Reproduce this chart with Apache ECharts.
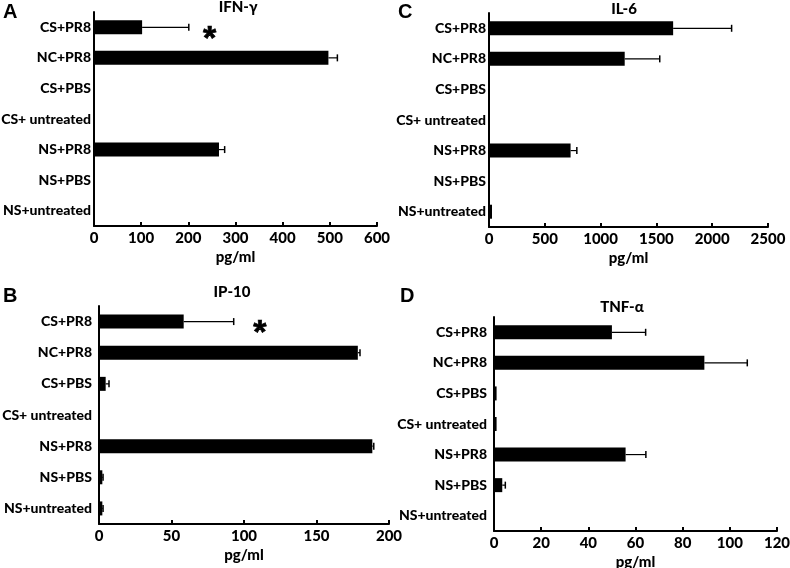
<!DOCTYPE html>
<html><head><meta charset="utf-8">
<script src="https://cdn.jsdelivr.net/npm/echarts@6/dist/echarts.min.js"></script>
<style>html,body{margin:0;padding:0;background:#fff}#c{width:790px;height:568px}</style>
</head><body><div id="c"></div>
<script>
const categories = ['CS+PR8','NC+PR8','CS+PBS','CS+ untreated','NS+PR8','NS+PBS','NS+untreated'];
const ifnValues = [102, 497, 0, 0, 265, 0, 0];
const ifnErr    = [99, 19, 0, 0, 12, 0, 0];
const il6Values = [1650, 1216, 0, 0, 731, 0, 27];
const il6Err    = [524, 314, 0, 0, 56, 0, 0];
const ip10Values = [58.4, 178.5, 4.6, 0, 188.5, 2.3, 2.3];
const ip10Err    = [34.5, 1.5, 2.3, 0, 1, 0.5, 0.5];
const tnfValues = [50.0, 89.2, 1.1, 1.1, 55.8, 3.5, 0.3];
const tnfErr    = [14.3, 18.2, 0, 0, 8.6, 1.3, 0];
const panelTitles = ['IFN-γ', 'IL-6', 'IP-10', 'TNF-α'];
const panelLetters = ['A', 'C', 'B', 'D'];
const axisMax = [600, 2500, 200, 120];
const axisInterval = [100, 500, 50, 20];
const starA = [[245, 0]];
const starB = [[111, 0]];
const unitLabel = 'pg/ml';

const FONT = 'Lato';
const W = 900;
const panels = [
  {vals: ifnValues, err: ifnErr},
  {vals: il6Values, err: il6Err},
  {vals: ip10Values, err: ip10Err},
  {vals: tnfValues, err: tnfErr}
];
const gridBase = {outerBoundsMode: 'none', containLabel: false};
const grids = [
  Object.assign({left: 94, top: 12, width: 283, height: 214}, gridBase),
  Object.assign({left: 489, top: 13, width: 279, height: 214}, gridBase),
  Object.assign({left: 99, top: 306, width: 290, height: 218}, gridBase),
  Object.assign({left: 494, top: 317, width: 283, height: 214}, gridBase)
];
const labelMargins = [3, 3, 7, 7];

const chart = echarts.init(document.getElementById('c'), null, {renderer: 'canvas'});

const xAxis = [], yAxis = [], series = [];
panels.forEach((p, i) => {
  xAxis.push({
    gridIndex: i, type: 'value', min: 0, max: axisMax[i], interval: axisInterval[i],
    name: unitLabel, nameLocation: 'middle', nameGap: 24,
    nameTextStyle: {fontFamily: FONT, fontWeight: W, fontSize: 15, color: '#000'},
    axisLine: {show: true, lineStyle: {color: '#000', width: 2}},
    axisTick: {show: true, inside: true, length: 4, lineStyle: {color: '#000', width: 2}},
    axisLabel: {fontFamily: FONT, fontWeight: W, fontSize: 15, color: '#000', margin: 5,
      formatter: v => String(v)},
    splitLine: {show: false}
  });
  yAxis.push({
    gridIndex: i, type: 'category', data: categories, inverse: true,
    axisLine: {show: true, lineStyle: {color: '#000', width: 2}},
    axisTick: {show: false},
    axisLabel: {fontFamily: FONT, fontWeight: W, fontSize: 14, color: '#000', margin: labelMargins[i]}
  });
  series.push({
    type: 'bar', xAxisIndex: i, yAxisIndex: i, data: p.vals, barWidth: 14,
    itemStyle: {color: '#000'}, silent: true, animation: false
  });
  series.push({
    type: 'custom', xAxisIndex: i, yAxisIndex: i, animation: false, silent: true,
    data: p.vals.map((v, k) => [v, p.err[k], k]),
    encode: {x: 0, y: 2},
    renderItem: function (params, api) {
      const v = api.value(0), e = api.value(1), k = api.value(2);
      if (!(e > 0)) return null;
      const a = api.coord([v, k]);
      const b = api.coord([v + e, k]);
      return {
        type: 'group',
        children: [
          {type: 'line', shape: {x1: a[0], y1: a[1], x2: b[0], y2: b[1]}, style: {stroke: '#000', lineWidth: 1.2}},
          {type: 'line', shape: {x1: b[0], y1: b[1] - 3.5, x2: b[0], y2: b[1] + 3.5}, style: {stroke: '#000', lineWidth: 1.5}}
        ]
      };
    }
  });
});

[[0, starA], [2, starB]].forEach(([gi, d]) => {
  series.push({
    type: 'custom', xAxisIndex: gi, yAxisIndex: gi, data: d, silent: true, animation: false,
    encode: {x: 0, y: 1},
    renderItem: function (params, api) {
      const c = api.coord([api.value(0), api.value(1)]);
      return {
        type: 'text', x: c[0], y: c[1] + 12,
        style: {text: '*', fill: '#000', stroke: '#000', lineWidth: 0.7,
          font: 'bold 34px "Liberation Sans"', align: 'center', verticalAlign: 'middle'}
      };
    }
  });
});

const titleCenters = [[238, 0], [624, 2], [232, 285], [622, 300]];
const letterPos = [[3, 2], [398, 2], [3, 286], [400, 286]];
const title = [];
panelTitles.forEach((t, i) => {
  title.push({text: t, left: titleCenters[i][0], top: titleCenters[i][1], textAlign: 'center',
    textStyle: {fontFamily: FONT, fontWeight: W, fontSize: 15, color: '#000'}, padding: 0});
  title.push({text: panelLetters[i], left: letterPos[i][0], top: letterPos[i][1],
    textStyle: {fontFamily: 'Liberation Sans', fontWeight: 'bold', fontSize: 20, color: '#000'}, padding: 0});
});

chart.setOption({animation: false, title, grid: grids, xAxis, yAxis, series});
</script></body></html>
